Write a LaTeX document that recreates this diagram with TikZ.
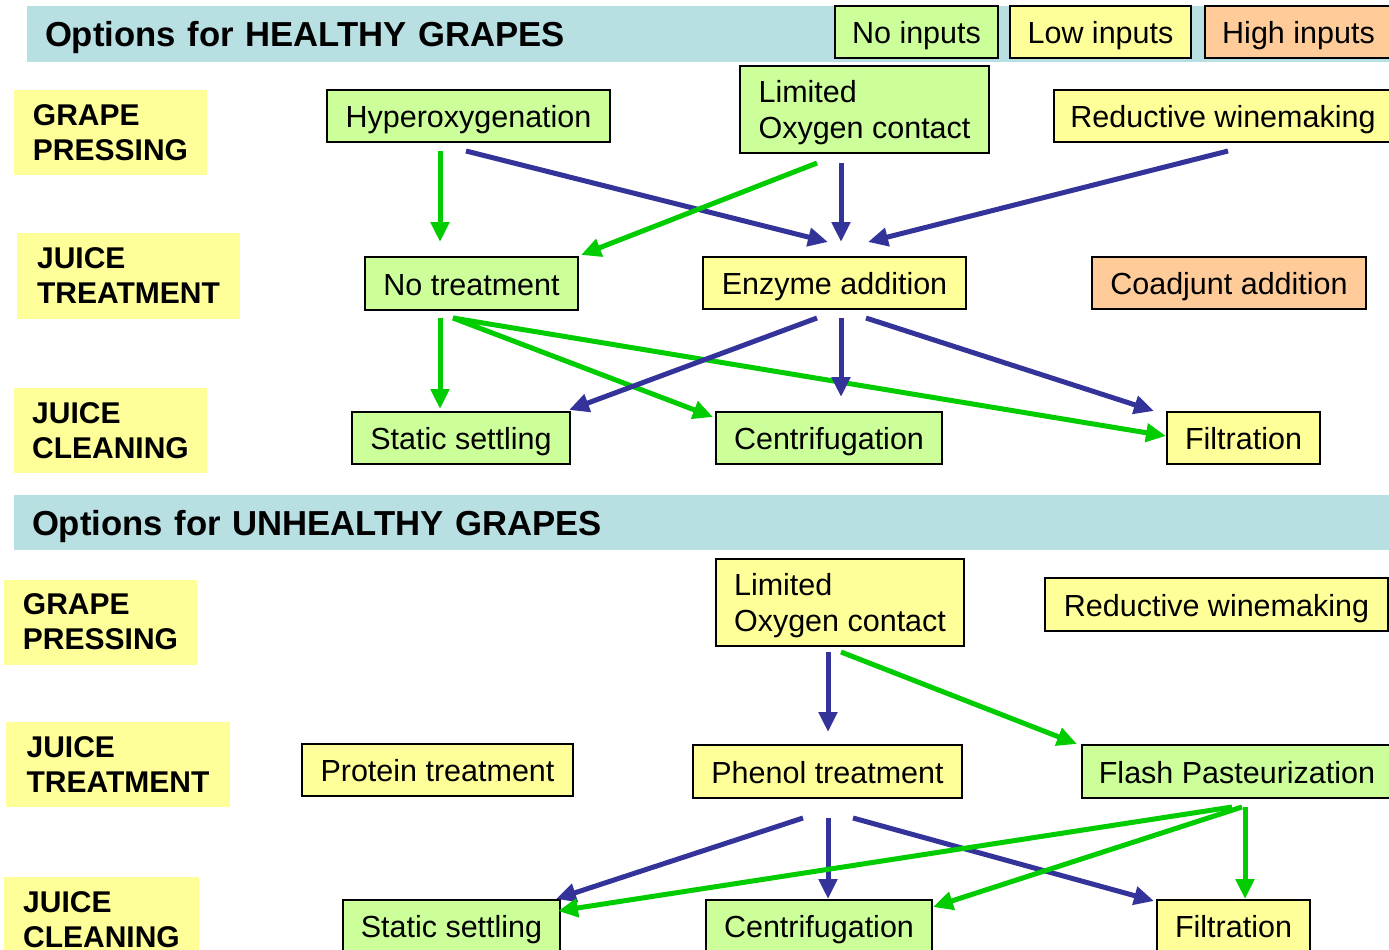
\documentclass[tikz,border=0pt]{standalone}
\usepackage{fontspec}
\setmainfont{Liberation Sans}
\usepackage{tikz}
\usepackage{xcolor}
\usetikzlibrary{positioning, arrows.meta}
\definecolor{optgreen}{RGB}{204, 255, 153}
\definecolor{optyellow}{RGB}{255, 255, 153}
\definecolor{optorange}{RGB}{255, 204, 153}
\definecolor{headcyan}{RGB}{184, 224, 227}
\definecolor{arrgreen}{RGB}{0, 204, 0}
\definecolor{arrblue}{RGB}{51, 51, 153}
\tikzset{
    optbox/.style={rectangle, draw=black, line width=2pt, minimum height=52pt, inner sep=0pt, text height=29pt, text depth=6pt, font=\fontsize{30.5}{36}\selectfont},
    greenbox/.style={optbox, fill=optgreen},
    yellowbox/.style={optbox, fill=optyellow},
    orangebox/.style={optbox, fill=optorange},
    twoline/.style={align=left, minimum height=87pt, text height=, text depth=0pt},
    stagebox/.style={rectangle, fill=optyellow, minimum width=193pt, minimum height=85pt, inner sep=0pt, align=left, text depth=0pt, font=\fontsize{30}{35}\selectfont\bfseries},
    headbar/.style={rectangle, fill=headcyan, inner xsep=18pt, inner ysep=0pt, align=left, text depth=0pt, font=\fontsize{34.7}{40}\selectfont\bfseries},
    garrow/.style={draw=arrgreen, line width=5pt, -{Triangle[length=20pt, width=18pt]}},
    barrow/.style={draw=arrblue, line width=5pt, -{Triangle[length=20pt, width=18pt]}}
}

\begin{document}
\begin{tikzpicture}[x=1pt, y=-1pt]
    \useasboundingbox (0,0) rectangle (1389,950);

    % healthy grapes
    \node[headbar, text width=1329pt, minimum height=56pt] (head1) at (709.5,34) {Options for HEALTHY GRAPES};
    \node[greenbox, minimum width=163pt] (noin) at (916.5,32) {No inputs};
    \node[yellowbox, minimum width=181pt] (lowin) at (1100.5,32) {Low inputs};
    \node[orangebox, minimum width=187pt] (highin) at (1298.5,32) {High inputs};

    \node[stagebox] (gp1) at (110.5,132.5) {GRAPE\\PRESSING};
    \node[stagebox, minimum width=223pt, minimum height=86pt] (jt1) at (128.5,276) {JUICE\\TREATMENT};
    \node[stagebox] (jc1) at (110.5,430.5) {JUICE\\CLEANING};

    \node[greenbox, minimum width=283pt] (hyper) at (468.5,116) {Hyperoxygenation};
    \node[greenbox, twoline, minimum width=249pt] (loc1) at (864.5,109.5) {Limited\\Oxygen contact};
    \node[yellowbox, minimum width=338pt] (red1) at (1223,116) {Reductive winemaking};
    \node[greenbox, minimum width=213pt, minimum height=53pt] (notreat) at (471.5,283.5) {No treatment};
    \node[yellowbox, minimum width=263pt] (enzyme) at (834.5,283) {Enzyme addition};
    \node[orangebox, minimum width=274pt] (coadj) at (1229,283) {Coadjunt addition};
    \node[greenbox, minimum width=218pt] (static1) at (461,438) {Static settling};
    \node[greenbox, minimum width=226pt] (centri1) at (829,438) {Centrifugation};
    \node[yellowbox, minimum width=153pt] (filt1) at (1243.5,438) {Filtration};

    \draw[garrow] ([shift={(-28.5,8)}]hyper.south) -- ([shift={(-31.5,-14)}]notreat.north);
    \draw[barrow] ([shift={(-2.5,8)}]hyper.south) -- ([shift={(-6.5,-14)}]enzyme.north);
    \draw[garrow] ([shift={(-47.5,9)}]loc1.south) -- ([shift={(2,-1)}]notreat.north east);
    \draw[barrow] ([shift={(-23.5,9)}]loc1.south) -- ([shift={(6.5,-14)}]enzyme.north);
    \draw[barrow] ([shift={(5,8)}]red1.south) -- ([shift={(33.5,-14)}]enzyme.north);
    \draw[garrow] ([shift={(-31.5,7)}]notreat.south) -- ([shift={(-21,-2)}]static1.north);
    \draw[garrow] ([shift={(-18.5,7)}]notreat.south) -- ([shift={(-2,6)}]centri1.north west);
    \draw[garrow] ([shift={(-18.5,7)}]notreat.south) -- ([shift={(0,-2)}]filt1.west);
    \draw[barrow] ([shift={(-17.5,8)}]enzyme.south) -- ([shift={(-2,-1)}]static1.north east);
    \draw[barrow] ([shift={(6.5,8)}]enzyme.south) -- ([shift={(12,-14)}]centri1.north);
    \draw[barrow] ([shift={(31.5,8)}]enzyme.south) -- ([shift={(-12,0)}]filt1.north west);

    % unhealthy grapes
    \node[headbar, text width=1342pt, minimum height=55pt] (head2) at (703,522.5) {Options for UNHEALTHY GRAPES};

    \node[stagebox] (gp2) at (100.5,622) {GRAPE\\PRESSING};
    \node[stagebox, minimum width=224pt] (jt2) at (118,764.5) {JUICE\\TREATMENT};
    \node[stagebox, minimum width=195pt] (jc2) at (101.5,919.5) {JUICE\\CLEANING};

    \node[yellowbox, twoline, minimum width=248pt] (loc2) at (840,602.5) {Limited\\Oxygen contact};
    \node[yellowbox, minimum width=343pt, minimum height=53pt] (red2) at (1216.5,604.5) {Reductive winemaking};
    \node[yellowbox, minimum width=271pt] (protein) at (437.5,770) {Protein treatment};
    \node[yellowbox, minimum width=269pt, minimum height=53pt] (phenol) at (827.5,771.5) {Phenol treatment};
    \node[greenbox, minimum width=310pt, minimum height=53pt] (flash) at (1237,771.5) {Flash Pasteurization};
    \node[greenbox, minimum width=217pt] (static2) at (451.5,926) {Static settling};
    \node[greenbox, minimum width=226pt] (centri2) at (819,926) {Centrifugation};
    \node[yellowbox, minimum width=153pt] (filt2) at (1233.5,926) {Filtration};

    \draw[barrow] ([shift={(-12,5)}]loc2.south) -- ([shift={(0.5,-12)}]phenol.north);
    \draw[garrow] ([shift={(1,5)}]loc2.south) -- ([shift={(-4,0)}]flash.north west);
    \draw[barrow] ([shift={(-24.5,19)}]phenol.south) -- ([shift={(-5,0)}]static2.north east);
    \draw[barrow] ([shift={(0.5,19)}]phenol.south) -- ([shift={(9,0)}]centri2.north);
    \draw[barrow] ([shift={(25.5,19)}]phenol.south) -- ([shift={(-2,2)}]filt2.north west);
    \draw[garrow] ([shift={(-5,8)}]flash.south) -- ([shift={(-3,12)}]static2.north east);
    \draw[garrow] ([shift={(5,8)}]flash.south) -- ([shift={(0,8)}]centri2.north east);
    \draw[garrow] ([shift={(8,8)}]flash.south) -- ([shift={(11.5,0)}]filt2.north);
\end{tikzpicture}
\end{document}
